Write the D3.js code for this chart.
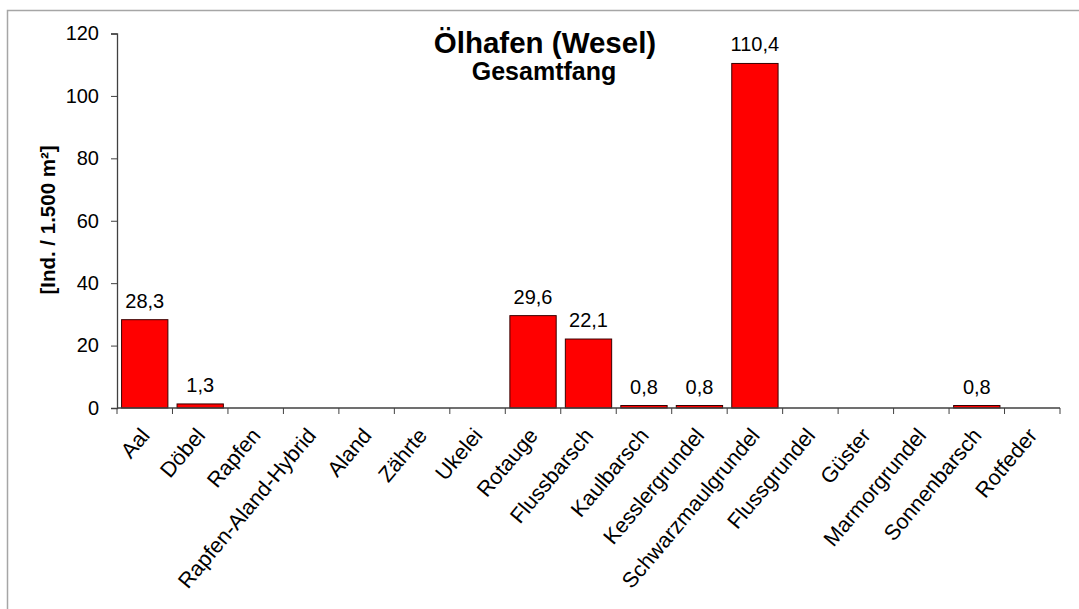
<!DOCTYPE html>
<html>
<head>
<meta charset="utf-8">
<script src="https://cdn.jsdelivr.net/npm/d3@7"></script>
<style>
	body { margin: 0; background: #fff; }
	svg { display: block; font-family: Arial, "Liberation Sans", sans-serif; }
</style>
</head>
<body>
<div id="chart"></div>
<script>
var categories = ['Aal', 'Döbel', 'Rapfen', 'Rapfen-Aland-Hybrid', 'Aland', 'Zährte', 'Ukelei',
	'Rotauge', 'Flussbarsch', 'Kaulbarsch', 'Kesslergrundel', 'Schwarzmaulgrundel',
	'Flussgrundel', 'Güster', 'Marmorgrundel', 'Sonnenbarsch', 'Rotfeder'];
var values = [28.3, 1.3, 0, 0, 0, 0, 0, 29.6, 22.1, 0.8, 0.8, 110.4, 0, 0, 0, 0.8, 0];
var yTicks = [0, 20, 40, 60, 80, 100, 120];
var title = 'Ölhafen (Wesel)', subtitle = 'Gesamtfang', yLabel = '[Ind. / 1.500 m²]';

var width = 1079, height = 609;
var margin = { left: 117, right: 19, top: 33.5, bottom: 201 };
var font = 'Arial, "Liberation Sans", sans-serif';

var svg = d3.select('#chart').append('svg')
	.attr('width', width)
	.attr('height', height);

// outer frame
svg.append('rect')
	.attr('x', 7.5).attr('y', 10.5)
	.attr('width', width + 10).attr('height', height + 10)
	.attr('fill', 'none').attr('stroke', '#a6a6a6').attr('stroke-width', 1.5);

var x = d3.scaleBand()
	.domain(categories)
	.range([margin.left, width - margin.right])
	.paddingInner(0.165)
	.paddingOuter(0.0825);
var y = d3.scaleLinear()
	.domain([0, 120])
	.range([height - margin.bottom, margin.top]);

var g = svg.append('g');

// y axis
var yAxis = g.append('g')
	.attr('transform', 'translate(' + margin.left + ',0)')
	.call(d3.axisLeft(y).tickValues(yTicks).tickSize(6).tickPadding(12));
yAxis.select('.domain').attr('stroke', '#404040').attr('stroke-width', 1.3);
yAxis.selectAll('.tick line').attr('stroke', '#404040');
yAxis.selectAll('.tick text').attr('font-size', 20).attr('fill', '#000')
	.attr('font-family', font);

var shown = categories.map(function(c, i) { return { c: c, v: values[i] }; })
	.filter(function(d) { return d.v > 0; });

// bars
g.selectAll('rect.bar')
	.data(shown)
	.enter().append('rect')
	.attr('class', 'bar')
	.attr('x', function(d) { return x(d.c); })
	.attr('y', function(d) { return y(d.v); })
	.attr('width', x.bandwidth())
	.attr('height', function(d) { return y(0) - y(d.v); })
	.attr('fill', '#ff0000')
	.attr('stroke', '#3a0000')
	.attr('stroke-width', 1);

// x axis
var step = x.step();
var xAxisG = g.append('g')
	.attr('transform', 'translate(0,' + y(0) + ')');
xAxisG.append('line')
	.attr('x1', margin.left).attr('x2', width - margin.right)
	.attr('stroke', '#404040').attr('stroke-width', 1.3);
var tickPos = d3.range(categories.length + 1).map(function(i) { return margin.left + i * step; });
xAxisG.selectAll('line.tick')
	.data(tickPos).enter().append('line')
	.attr('class', 'tick')
	.attr('x1', function(d) { return d; }).attr('x2', function(d) { return d; })
	.attr('y1', 0).attr('y2', 6)
	.attr('stroke', '#404040');
xAxisG.selectAll('text')
	.data(categories).enter().append('text')
	.attr('transform', function(d) {
		return 'translate(' + (x(d) + x.bandwidth() / 2 + 6) + ',28) rotate(-50)';
	})
	.attr('text-anchor', 'end')
	.attr('font-size', 21.5)
	.attr('fill', '#000')
	.text(function(d) { return d; });

// value labels
var fmt = function(v) { return d3.format('.1f')(v).replace('.', ','); };
g.selectAll('text.val')
	.data(shown)
	.enter().append('text')
	.attr('class', 'val')
	.attr('x', function(d) { return x(d.c) + x.bandwidth() / 2; })
	.attr('y', function(d) { return y(d.v) - 12; })
	.attr('text-anchor', 'middle')
	.attr('font-size', 20)
	.text(function(d) { return fmt(d.v); });

// titles
svg.append('text')
	.attr('x', 545).attr('y', 53)
	.attr('text-anchor', 'middle')
	.attr('font-size', 29.5).attr('font-weight', 'bold')
	.text(title);
svg.append('text')
	.attr('x', 544).attr('y', 80)
	.attr('text-anchor', 'middle')
	.attr('font-size', 25).attr('font-weight', 'bold')
	.text(subtitle);
svg.append('text')
	.attr('transform', 'translate(55,220) rotate(-90)')
	.attr('text-anchor', 'middle')
	.attr('font-size', 20.5).attr('font-weight', 'bold')
	.text(yLabel);
</script>
</body>
</html>
